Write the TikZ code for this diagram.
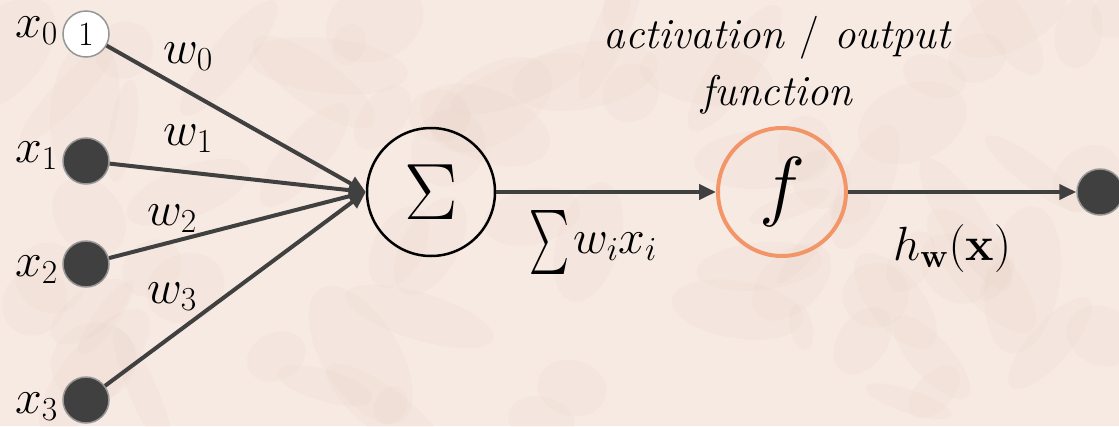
\RequirePackage{fix-cm}
\documentclass[tikz,border=0pt]{standalone}
\usepackage{graphicx}
\usetikzlibrary{arrows.meta}
\definecolor{bg}{RGB}{246,234,227}
\definecolor{blot}{RGB}{230,205,192}
\definecolor{edgec}{RGB}{64,64,64}
\definecolor{ringc}{RGB}{150,150,150}
\definecolor{orng}{RGB}{242,150,105}
\begin{document}
\begin{tikzpicture}[x=1pt,y=-1pt,
  lbl/.style={font=\fontsize{48}{52}\selectfont, inner sep=0pt, anchor=base west},
  ttl/.style={font=\fontsize{43}{47}\selectfont\itshape, inner sep=0pt, anchor=base},
  inp/.style={circle, minimum size=46pt, inner sep=0pt, fill=edgec, draw=ringc, line width=1.5pt},
  bias/.style={inp, fill=white, font=\fontsize{34}{34}\selectfont},
  unit/.style={circle, minimum size=128pt, inner sep=0pt},
  conn/.style={draw=edgec, line width=4pt, -{Triangle[length=17pt,width=15pt]}}]
\useasboundingbox (0,0) rectangle (1119,426);
\begin{scope}
\clip (0,0) rectangle (1119,426);
\fill[bg] (0,0) rectangle (1119,426);
\pgfmathsetseed{7}
\foreach \i in {1,...,80}{
  \pgfmathsetmacro{\px}{rnd*1119}
  \pgfmathsetmacro{\py}{rnd*426}
  \pgfmathsetmacro{\ra}{20+rnd*60}
  \pgfmathsetmacro{\rb}{10+rnd*30}
  \pgfmathsetmacro{\ang}{rnd*180}
  \fill[blot, opacity=0.12, rotate around={\ang:(\px,\py)}] (\px,\py) ellipse [x radius=\ra, y radius=\rb];
}
\end{scope}
% nodes
\node[bias] (x0) at (86,34) {1};
\node[inp] (x1) at (86,161) {};
\node[inp] (x2) at (86,264) {};
\node[inp] (x3) at (86,400) {};
\node[unit, draw=black, line width=2.5pt, font=\fontsize{80}{80}\selectfont] (sig) at (431,192) {$\Sigma$};
\node[unit, draw=orng, line width=4pt, font=\fontsize{78}{78}\selectfont] (f) at (782,192) {$f$};
\node[inp] (out) at (1100,192) {};
% labels
\node[lbl] (lx0) at (15,37) {$x_0$};
\node[lbl] (lx1) at (15,162) {$x_1$};
\node[lbl] (lx2) at (15,276) {$x_2$};
\node[lbl] (lx3) at (15,413) {$x_3$};
\node[lbl] (lw0) at (163,63) {$w_0$};
\node[lbl] (lw1) at (163,145) {$w_1$};
\node[lbl] (lw2) at (147,225) {$w_2$};
\node[lbl] (lw3) at (147,303) {$w_3$};
\node[inner sep=0pt] (lsum) at (549,242) {\resizebox*{40pt}{64pt}{$\sum$}};
\node[lbl] (lwx) at (573,253) {$w_i x_i$};
\node[lbl] (lh) at (893,260) {$h_{\mathbf{w}}(\mathbf{x})$};
\node[ttl] (t1) at (777,48) {activation \upshape/\itshape{} output};
\node[ttl] (t2) at (777,105) {function};
% connectors
\draw[conn] (x0) -- (sig.west);
\draw[conn] (x1) -- (sig.west);
\draw[conn] (x2) -- (sig.west);
\draw[conn] (x3) -- (sig.west);
\draw[conn] (sig) -- (f);
\draw[conn] (f) -- (out);
\end{tikzpicture}
\end{document}
